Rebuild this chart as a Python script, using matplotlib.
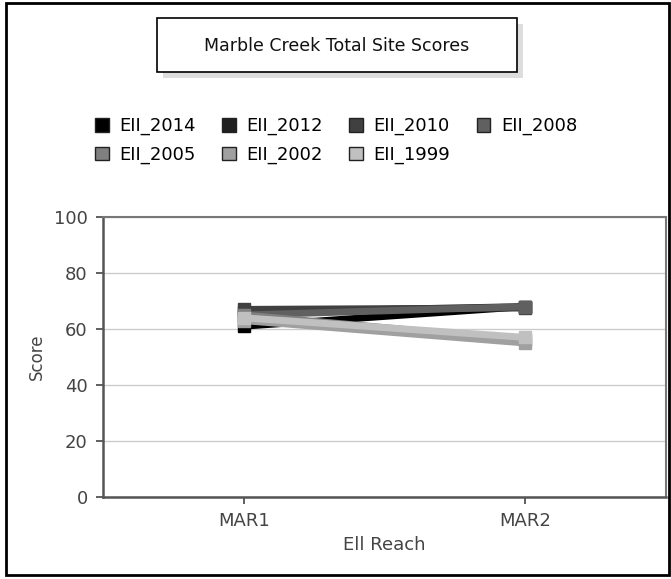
import matplotlib
matplotlib.use("Agg")
import matplotlib.pyplot as plt
from matplotlib.patches import Rectangle, Patch

# data
reaches = ["MAR1", "MAR2"]
series = ["EII_2014", "EII_2012", "EII_2010", "EII_2008", "EII_2005", "EII_2002", "EII_1999"]
eii_2014 = [61, 68]
eii_2012 = [66, 68]
eii_2010 = [67, 67.5]
eii_2008 = [65, 68]
eii_2005 = [65, 56]
eii_2002 = [63, 55]
eii_1999 = [64, 57]
values = [eii_2014, eii_2012, eii_2010, eii_2008, eii_2005, eii_2002, eii_1999]
colors = ["#000000", "#202020", "#404040", "#606060", "#808080", "#a0a0a0", "#c0c0c0"]

plt.rcParams["font.family"] = "DejaVu Sans"

fig = plt.figure(figsize=(6.71, 5.79), dpi=100)
ax = fig.add_axes([103 / 671, 1 - 497 / 579, 563 / 671, 280 / 579])

x = list(range(len(reaches)))
for name, vals, c in zip(series, values, colors):
    ax.plot(x, vals, color=c, lw=5, marker="s", markersize=8, solid_capstyle="butt", label=name)

ax.set_xlim(-0.5, 1.5)
ax.set_ylim(0, 100)
ax.set_yticks([0, 20, 40, 60, 80, 100])
ax.set_xticks(x)
ax.set_xticklabels(reaches)
ax.tick_params(labelsize=13, labelcolor="#444444", color="#444444", length=5, width=1.2, pad=6)
ax.grid(axis="y", color="#cccccc", lw=1)
ax.set_axisbelow(True)
for s in ["left", "bottom"]:
    ax.spines[s].set_color("#555555")
    ax.spines[s].set_linewidth(1.8)
for s in ["top", "right"]:
    ax.spines[s].set_color("#777777")
    ax.spines[s].set_linewidth(1.5)
ax.set_ylabel("Score", fontsize=12, color="#444444", labelpad=6)
ax.set_xlabel("Ell Reach", fontsize=13, color="#444444", labelpad=4)

# boxed title with shadow
fig.patches.append(Rectangle((163 / 671, 1 - 78 / 579), 360 / 671, 54 / 579,
                             transform=fig.transFigure, facecolor="#dddddd", edgecolor="none"))
fig.patches.append(Rectangle((157 / 671, 1 - 72 / 579), 360 / 671, 54 / 579,
                             transform=fig.transFigure, facecolor="white", edgecolor="black", lw=1.2))
fig.text(337 / 671, 1 - 46 / 579, "Marble Creek Total Site Scores", ha="center", va="center",
         fontsize=12.5, color="#111111")

# legend (reordered so it reads row by row)
order = [0, 4, 1, 5, 2, 6, 3]
handles = [Patch(facecolor=colors[i], edgecolor="#222222", label=series[i]) for i in order]
fig.legend(handles=handles, ncol=4, loc="upper left", bbox_to_anchor=(88 / 671, 1 - 110 / 579),
           frameon=False, fontsize=13, handlelength=0.75, handleheight=0.75,
           handletextpad=0.6, columnspacing=1.45, labelspacing=0.55, borderaxespad=0)

# figure frame
fig.patches.append(Rectangle((6 / 671, 4 / 579), 663 / 671, 572 / 579,
                             transform=fig.transFigure, facecolor="none", edgecolor="black", lw=2))

fig.savefig("out.png", dpi=100)
